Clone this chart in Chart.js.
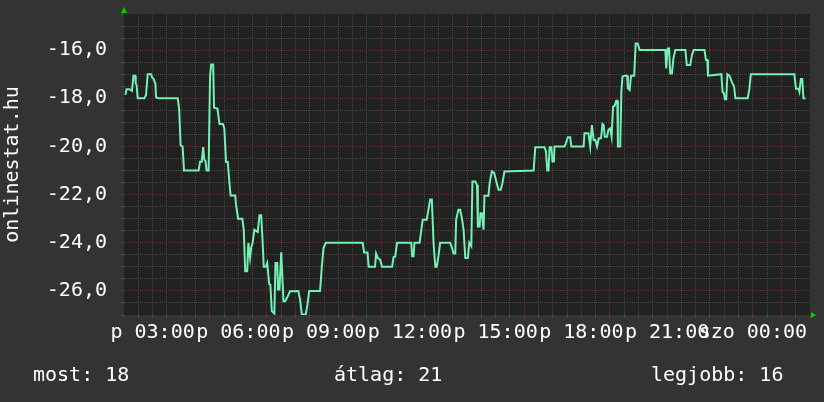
<!DOCTYPE html>
<html>
<head>
<meta charset="utf-8">
<script src="https://cdn.jsdelivr.net/npm/chart.js@4.4.0/dist/chart.umd.min.js"></script>
<style>
  html, body { margin: 0; padding: 0; background: #333333; }
  canvas { display: block; }
</style>
</head>
<body>
<canvas id="rankChart" width="824" height="402"></canvas>
<script>
// hours since Friday 00:00 (24 and above = Saturday)
const times = [
    2.05, 2.09, 2.19, 2.28, 2.33, 2.39, 2.41, 2.44, 2.48, 2.71, 2.77, 2.83, 2.95, 2.99, 3.04, 3.10, 3.12, 3.20,
    3.88, 3.93, 3.98, 4.05, 4.10, 4.61, 4.66, 4.72, 4.77, 4.81, 4.85, 4.89, 4.96,
    5.01, 5.05, 5.12, 5.15, 5.27, 5.34, 5.46, 5.51, 5.57, 5.63, 5.68, 5.73, 5.89, 5.92, 5.99,
    6.14, 6.19, 6.24, 6.31, 6.35, 6.41, 6.45, 6.50, 6.56, 6.68, 6.74, 6.80, 6.84, 6.89, 6.96, 7.01, 7.08, 7.12, 7.17, 7.26,
    7.30, 7.36, 7.39, 7.44, 7.50, 7.53, 7.58, 7.64, 7.73, 7.81, 8.10, 8.16, 8.22, 8.36, 8.41, 8.48, 8.86, 8.92, 8.98, 9.06,
    10.35, 10.40, 10.52, 10.56, 10.78, 10.82, 10.88, 10.96, 11.03, 11.38, 11.43, 11.49, 11.55,
    12.05, 12.08, 12.13, 12.16, 12.34, 12.38, 12.45, 12.59, 12.65, 12.71, 12.77, 12.83, 12.89, 12.94, 13.00, 13.06, 13.41, 13.47, 13.53, 13.59, 13.62, 13.70, 13.76, 13.82, 13.88, 13.94, 14.03, 14.08, 14.15,
    14.19, 14.29, 14.35, 14.38, 14.44, 14.47, 14.52, 14.58, 14.61, 14.75, 14.80, 14.87, 14.95, 15.04, 15.10, 15.18, 15.24, 15.31,
    16.33, 16.39, 16.71, 16.76, 16.81, 16.85, 16.89, 16.95, 16.99, 17.04, 17.06, 17.41, 17.46, 17.53, 17.61, 17.65, 18.08,
    18.11, 18.25, 18.31, 18.37, 18.43, 18.49, 18.55, 18.61, 18.69, 18.74, 18.78, 18.82, 18.90, 18.95, 19.01, 19.06, 19.11, 19.16, 19.22, 19.26, 19.28, 19.36,
    19.40, 19.44, 19.54, 19.60, 19.63, 19.69, 19.74, 19.85, 19.90, 19.97, 20.04, 20.94, 20.97, 21.02, 21.07, 21.11, 21.17, 21.22, 21.29,
    21.64, 21.69, 21.81, 21.87, 21.93, 22.31, 22.36, 22.41, 22.43, 22.90, 22.94, 22.99, 23.02, 23.07, 23.11, 23.18, 23.23, 23.29, 23.34, 23.39, 23.82, 23.88, 23.93, 25.45, 25.51, 25.60, 25.63, 25.68, 25.73, 25.77, 25.84
];
const values = [
    -17.86, -17.62, -17.62, -17.69, -17.06, -17.06, -17.38, -17.45, -18.0, -18.0, -17.86, -17.0, -17.0, -17.15, -17.2, -17.4, -17.96, -18.0,
    -18.0, -18.44, -19.96, -20.0, -21.0, -21.0, -20.64, -20.64, -20.03, -20.55, -20.6, -21.0, -21.0,
    -17.1, -16.6, -16.6, -18.39, -18.43, -19.07, -19.07, -19.25, -20.65, -20.65, -21.39, -22.04, -22.04, -22.42, -23.0,
    -23.0, -23.46, -25.18, -25.18, -24.0, -24.63, -24.2, -24.0, -23.46, -23.55, -22.86, -22.86, -23.73, -25.0, -25.0, -24.84, -25.71, -25.74, -26.84, -26.94,
    -24.84, -24.84, -25.94, -25.94, -24.4, -25.12, -26.43, -26.43, -26.22, -26.01, -26.0, -26.36, -26.98, -26.98, -26.63, -26.0, -26.0, -25.0, -24.22, -24.0,
    -24.0, -24.4, -24.4, -25.0, -25.0, -24.45, -24.63, -24.7, -25.0, -25.0, -24.6, -24.57, -24.0,
    -24.0, -24.56, -24.56, -24.0, -24.0, -23.67, -23.04, -23.04, -22.63, -22.2, -22.2, -24.0, -25.0, -25.0, -24.56, -24.0, -24.0, -24.2, -24.45, -24.45, -23.04, -22.63, -22.63, -22.97, -23.46, -24.63, -24.63, -24.0, -24.14,
    -21.46, -21.46, -21.6, -23.32, -23.32, -22.77, -22.77, -23.46, -22.05, -22.05, -21.46, -21.04, -21.1, -21.52, -21.8, -21.8, -21.52, -21.04,
    -21.0, -20.03, -20.03, -20.2, -21.0, -21.0, -20.03, -20.03, -20.63, -20.63, -20.0, -20.0, -19.87, -19.62, -19.62, -20.0, -20.0,
    -19.45, -19.45, -20.0, -19.11, -19.73, -19.73, -20.0, -19.66, -19.66, -19.07, -19.11, -19.6, -19.6, -19.3, -19.25, -19.6, -18.35, -18.32, -18.1, -18.1, -20.0, -20.0,
    -17.73, -17.1, -17.06, -17.06, -17.59, -17.66, -17.06, -17.06, -15.72, -15.72, -16.0, -16.0, -16.76, -15.93, -15.93, -16.97, -16.97, -16.35, -16.0,
    -16.0, -16.62, -16.62, -16.2, -16.0, -16.0, -16.41, -16.41, -17.06, -17.0, -17.73, -17.8, -18.04, -18.04, -17.0, -17.06, -17.2, -17.4, -17.48, -18.0, -18.0, -17.6, -17.0, -17.0, -17.6, -17.6, -17.73, -17.2, -17.2, -18.0, -18.0
];

const xTickHours = [3, 6, 9, 12, 15, 18, 21, 24];
const xTickLabels = ['p 03:00', 'p 06:00', 'p 09:00', 'p 12:00', 'p 15:00', 'p 18:00', 'p 21:00', 'szo 00:00'];
const yLabelValues = [-26, -24, -22, -20, -18, -16];
const legendTexts = ['most: 18', 'átlag: 21', 'legjobb: 16'];

const X_MIN = 2, X_MAX = 26;
const Y_MIN = -27, Y_MAX = -14.5;

const MINOR = 'rgba(100,100,100,0.6)';
const MAJOR = 'rgba(130,55,55,0.7)';

Chart.defaults.font.family = "'DejaVu Sans Mono', monospace";
Chart.defaults.font.size = 20;
Chart.defaults.color = '#ffffff';

const rrdLook = {
    id: 'rrdLook',
    beforeDraw(chart) {
        const ctx = chart.ctx;
        const a = chart.chartArea;
        ctx.save();
        ctx.fillStyle = '#333333';
        ctx.fillRect(0, 0, chart.width, chart.height);
        ctx.fillStyle = '#212121';
        ctx.fillRect(a.left, a.top, a.right - a.left, a.bottom - a.top);
        ctx.restore();
    },
    afterDraw(chart) {
        const ctx = chart.ctx;
        const a = chart.chartArea;
        ctx.save();
        // axis arrows
        ctx.fillStyle = '#00d000';
        ctx.beginPath();
        ctx.moveTo(a.left - 3, a.top - 1);
        ctx.lineTo(a.left + 3, a.top - 1);
        ctx.lineTo(a.left, a.top - 7);
        ctx.closePath();
        ctx.fill();
        ctx.beginPath();
        ctx.moveTo(a.right + 1, a.bottom - 3);
        ctx.lineTo(a.right + 1, a.bottom + 3);
        ctx.lineTo(a.right + 6, a.bottom);
        ctx.closePath();
        ctx.fill();
        // legend line
        ctx.fillStyle = '#ffffff';
        ctx.font = "20px 'DejaVu Sans Mono', monospace";
        ctx.textBaseline = 'alphabetic';
        ctx.textAlign = 'left';
        ctx.fillText(legendTexts[0], 33, 381);
        ctx.fillText(legendTexts[1], 334, 381);
        ctx.fillText(legendTexts[2], 651, 381);
        ctx.restore();
    }
};

function edge(value, min, max) {
    return value <= min || value >= max;
}

const ctx = document.getElementById('rankChart').getContext('2d');
const rankChart = new Chart(ctx, {
    type: 'line',
    data: {
        datasets: [{
            data: times.map((t, i) => ({ x: t, y: values[i] })),
            borderColor: '#72f2b4',
            borderWidth: 2,
            pointRadius: 0,
            tension: 0,
            fill: false
        }]
    },
    options: {
        responsive: false,
        animation: false,
        devicePixelRatio: 1,
        layout: { padding: { left: 0, top: 14, right: 14, bottom: 0 } },
        plugins: {
            legend: { display: false },
            tooltip: { enabled: false }
        },
        scales: {
            x: {
                type: 'linear',
                min: X_MIN,
                max: X_MAX,
                afterFit: (scale) => {
                    scale.height = 87;
                    scale.paddingLeft = 0;
                    scale.paddingRight = 0;
                },
                ticks: {
                    stepSize: 0.5,
                    autoSkip: false,
                    maxRotation: 0,
                    padding: 3,
                    color: '#ffffff',
                    callback: (value) => {
                        const i = xTickHours.indexOf(value);
                        return i >= 0 ? xTickLabels[i] : '';
                    }
                },
                grid: {
                    drawTicks: true,
                    tickLength: 3,
                    color: (c) => edge(c.tick.value, X_MIN, X_MAX) ? 'rgba(0,0,0,0)' :
                        (Number.isInteger(c.tick.value) ? MAJOR : MINOR),
                    tickColor: (c) => Number.isInteger(c.tick.value) ? MAJOR : MINOR
                },
                border: { display: false, dash: [1, 1] }
            },
            y: {
                min: Y_MIN,
                max: Y_MAX,
                afterFit: (scale) => {
                    scale.width = 124;
                    scale.paddingTop = 0;
                    scale.paddingBottom = 0;
                },
                title: {
                    display: true,
                    text: 'onlinestat.hu',
                    color: '#ffffff',
                    font: { size: 20 },
                    padding: { top: 1, bottom: 0 }
                },
                ticks: {
                    stepSize: 0.5,
                    autoSkip: false,
                    padding: 14,
                    color: '#ffffff',
                    callback: (value) => yLabelValues.includes(value) ? value.toFixed(1).replace('.', ',') : ''
                },
                grid: {
                    drawTicks: true,
                    tickLength: 3,
                    color: (c) => edge(c.tick.value, Y_MIN, Y_MAX) ? 'rgba(0,0,0,0)' :
                        (c.tick.value % 2 === 0 ? MAJOR : MINOR),
                    tickColor: (c) => c.tick.value % 2 === 0 ? MAJOR : MINOR
                },
                border: { display: false, dash: [1, 1] }
            }
        }
    },
    plugins: [rrdLook]
});
</script>
</body>
</html>
